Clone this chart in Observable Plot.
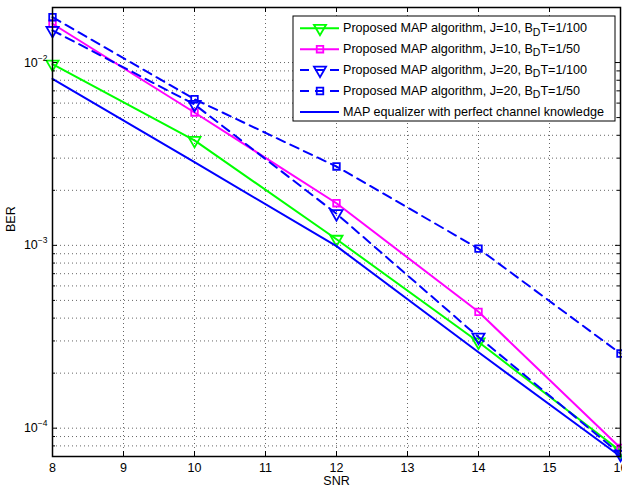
<!DOCTYPE html>
<html><head><meta charset="utf-8">
<script src="https://cdn.jsdelivr.net/npm/d3@7"></script>
<script src="https://cdn.jsdelivr.net/npm/@observablehq/plot@0.6"></script>
<style>
body{margin:0;background:#fff;}
#chart svg{overflow:hidden;}
</style>
</head><body><div id="chart"></div>
<script>
// ---- data ----
const snr = [8, 10, 12, 14, 16];
const berJ10_100 = [0.0098, 0.00375, 0.00108, 0.000296, 0.000075];
const berJ10_50  = [0.0163, 0.00533, 0.00170, 0.000433, 0.000078];
const berJ20_100 = [0.0150, 0.00590, 0.00149, 0.000315, 0.000072];
const berJ20_50  = [0.0177, 0.00630, 0.00270, 0.000960, 0.000256];
const berPerfect = [0.00815, 0.00285, 0.00099, 0.000260, 0.000070];
const seriesNames = [
  ["Proposed MAP algorithm, J=10, B", "D", "T=1/100"],
  ["Proposed MAP algorithm, J=10, B", "D", "T=1/50"],
  ["Proposed MAP algorithm, J=20, B", "D", "T=1/100"],
  ["Proposed MAP algorithm, J=20, B", "D", "T=1/50"],
  ["MAP equalizer with perfect channel knowledge", "", ""]
];
const xTicks = [8, 9, 10, 11, 12, 13, 14, 15, 16];
const yMajorTicks = [1e-4, 1e-3, 1e-2];
const yMinorTicks = [8e-5, 9e-5, 2e-4, 3e-4, 4e-4, 5e-4, 6e-4, 7e-4, 8e-4, 9e-4,
                     2e-3, 3e-3, 4e-3, 5e-3, 6e-3, 7e-3, 8e-3, 9e-3];
const xLabel = "SNR";
const yLabel = "BER";

// ---- styles (kept apart from data) ----
const styles = [
  {color: "#00ff00", dash: null,  symbol: "triangle", rotate: 180},
  {color: "#ff00ff", dash: null,  symbol: "square",   rotate: 0},
  {color: "#0000ff", dash: "9,6", symbol: "triangle", rotate: 180},
  {color: "#0000ff", dash: "9,6", symbol: "square",   rotate: 0},
  {color: "#0000ff", dash: null,  symbol: null,       rotate: 0}
];
const seriesValues = [berJ10_100, berJ10_50, berJ20_100, berJ20_50, berPerfect];

const W = 622, H = 488, mL = 52, mR = 2, mT = 7, mB = 32;
const pw = W - mL - mR, ph = H - mT - mB;
const font = "'Liberation Sans', Arial, Helvetica, sans-serif";
const gridStyle = {stroke: "#000", strokeOpacity: 0.6, strokeDasharray: "1,3", strokeWidth: 1};

const marks = [
  Plot.ruleX(xTicks.filter(d => d > 8 && d < 16), {x: d => d, ...gridStyle}),
  Plot.ruleY([...yMinorTicks, ...yMajorTicks], {y: d => d, ...gridStyle}),
];
seriesValues.forEach((vals, k) => {
  const rows = snr.map((x, i) => ({x, y: vals[i]}));
  const s = styles[k];
  marks.push(Plot.line(rows, {x: "x", y: "y", stroke: s.color, strokeWidth: 2,
    strokeDasharray: s.dash ?? undefined}));
  if (s.symbol) {
    marks.push(Plot.dot(rows, {x: "x", y: "y", symbol: s.symbol, rotate: s.rotate,
      r: s.symbol === "square" ? 3.7 : 4.5, stroke: s.color, strokeWidth: 1.8, fill: "none"}));
  }
});
marks.push(
  Plot.frame({stroke: "#000", strokeWidth: 1.5}),
  Plot.tickX(xTicks, {x: d => d, insetTop: ph - 5, stroke: "#000"}),
  Plot.tickX(xTicks, {x: d => d, insetBottom: ph - 5, stroke: "#000"}),
  Plot.tickY(yMajorTicks, {y: d => d, insetRight: pw - 5, stroke: "#000"}),
  Plot.tickY(yMajorTicks, {y: d => d, insetLeft: pw - 5, stroke: "#000"}),
  Plot.tickY(yMinorTicks, {y: d => d, insetRight: pw - 3, stroke: "#000"}),
  Plot.tickY(yMinorTicks, {y: d => d, insetLeft: pw - 3, stroke: "#000"}),
  Plot.axisX(xTicks, {tickSize: 0, tickPadding: 7, label: null, fontSize: 12.5}),
  Plot.axisY(yMajorTicks, {tickSize: 0, tickPadding: 5, label: null, fontSize: 12.5,
    tickFormat: d => "10^" + Math.round(Math.log10(d))}),
  Plot.text([xLabel], {text: d => d, frameAnchor: "bottom", dy: 28.5, fontSize: 12.5}),
  Plot.text([yLabel], {text: d => d, frameAnchor: "left", dx: -42, rotate: -90, fontSize: 12.5})
);

const plot = Plot.plot({
  width: W, height: H,
  marginLeft: mL, marginRight: mR, marginTop: mT, marginBottom: mB,
  style: {fontFamily: font, fontSize: "12px", background: "#fff", color: "#000"},
  x: {domain: [8, 16], label: null},
  y: {type: "log", domain: [7e-5, 0.02], label: null},
  marks
});
document.getElementById("chart").appendChild(plot);

const svg = d3.select(plot);
// superscript exponents on y tick labels
svg.selectAll('g[aria-label="y-axis tick label"] text').each(function() {
  const t = d3.select(this);
  const parts = t.text().split("^");
  t.text(parts[0]);
  t.append("tspan").attr("dy", "-6").attr("font-size", 8.5)
    .text(parts[1].replace("-", "\u2212"));
});

// legend
const lg = svg.append("g").attr("font-family", font).attr("font-size", 12.6)
  .attr("text-anchor", "start");
lg.append("rect").attr("x", 293).attr("y", 16).attr("width", 322).attr("height", 105)
  .attr("fill", "#fff").attr("stroke", "#000").attr("stroke-width", 1);
seriesNames.forEach((name, i) => {
  const s = styles[i];
  const y = 28.3 + 20.9 * i;
  lg.append("line").attr("x1", 300).attr("x2", 339).attr("y1", y).attr("y2", y)
    .attr("stroke", s.color).attr("stroke-width", 2)
    .attr("stroke-dasharray", s.dash);
  if (s.symbol) {
    const sym = s.symbol === "square" ? d3.symbolSquare : d3.symbolTriangle;
    const r = s.symbol === "square" ? 3.7 : 4.5;
    lg.append("path").attr("d", d3.symbol(sym, Math.PI * r * r)())
      .attr("transform", `translate(320,${y}) rotate(${s.rotate})`)
      .attr("fill", "none").attr("stroke", s.color).attr("stroke-width", 1.8);
  }
  const t = lg.append("text").attr("x", 343).attr("y", y).attr("dy", "0.3em")
    .attr("fill", "#000").attr("text-anchor", "start");
  t.append("tspan").text(name[0]);
  if (name[1]) {
    t.append("tspan").attr("dy", 3.5).attr("font-size", 10.5).text(name[1]);
    t.append("tspan").attr("dy", -3.5).text(name[2]);
  }
});
</script>
</body></html>
